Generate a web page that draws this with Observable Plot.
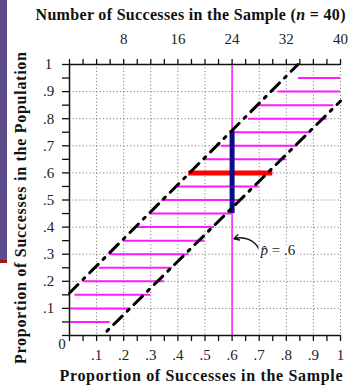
<!DOCTYPE html>
<html><head><meta charset="utf-8">
<script src="https://cdn.jsdelivr.net/npm/d3@7"></script>
<script src="https://cdn.jsdelivr.net/npm/@observablehq/plot@0.6"></script>
<style>
html,body{margin:0;padding:0;background:#fff;}
#wrap{position:relative;width:350px;height:386px;overflow:hidden;}
.strip{position:absolute;left:0;width:7px;z-index:2;}
svg{position:absolute;left:0;top:0;}
</style></head><body>
<div id="wrap">
<div class="strip" style="top:0;height:260px;background:#5e4b8c"></div>
<div class="strip" style="top:260px;height:3px;background:#a3161a"></div>
</div>
<script>
// ---- data ----
const sampleSize = 40;
const popP    = [0.05, 0.10, 0.15, 0.20, 0.25, 0.30, 0.35, 0.40, 0.45, 0.50, 0.55, 0.60, 0.65, 0.70, 0.75, 0.80, 0.85, 0.90, 0.95];
const lowEnd  = [0.00, 0.00, 0.02, 0.05, 0.11, 0.15, 0.20, 0.245, 0.30, 0.34, 0.39, 0.44, 0.50, 0.56, 0.61, 0.66, 0.695, 0.77, 0.845];
const highEnd = [0.15, 0.225, 0.30, 0.35, 0.38, 0.44, 0.50, 0.535, 0.60, 0.635, 0.70, 0.75, 0.80, 0.84, 0.89, 0.95, 0.975, 1.00, 1.00];
const xTickValues = [0.1, 0.2, 0.3, 0.4, 0.5, 0.6, 0.7, 0.8, 0.9, 1.0];
const xTickLabels = [".1", ".2", ".3", ".4", ".5", ".6", ".7", ".8", ".9", "1"];
const yTickValues = [0.1, 0.2, 0.3, 0.4, 0.5, 0.6, 0.7, 0.8, 0.9, 1.0];
const yTickLabels = [".1", ".2", ".3", ".4", ".5", ".6", ".7", ".8", ".9", "1"];
const topTickCounts = [8, 16, 24, 32, 40];
const pHat = 0.6;
const redBar  = {p: 0.6, lo: 0.44, hi: 0.75};
const blueBar = {x: 0.6, lo: 0.45, hi: 0.755};
const leftBoundX  = [0.0, 0.843];
const leftBoundY  = [0.157, 1.0];
const rightBoundX = [0.138, 1.0];
const rightBoundY = [0.016, 0.865];
const gridVals = [0.1, 0.2, 0.3, 0.4, 0.5, 0.6, 0.7, 0.8, 0.9];
const minorTicks = d3.range(0, 21).map(i => i / 20);

const intervals = popP.map((p, i) => ({p, lo: lowEnd[i], hi: highEnd[i]}));
const leftBound = leftBoundX.map((x, i) => ({x, y: leftBoundY[i]}));
const rightBound = rightBoundX.map((x, i) => ({x, y: rightBoundY[i]}));

const serif = "Liberation Serif, Times New Roman, Times, serif";
const magenta = "#ff1aff";
const gridStyle = {stroke: "#808080", strokeOpacity: 1, strokeWidth: 1, strokeDasharray: "1.2,2.2"};

const chart = Plot.plot({
  width: 350, height: 386,
  marginLeft: 69, marginRight: 10, marginTop: 64, marginBottom: 51,
  x: {domain: [0, 1]},
  y: {domain: [0, 1]},
  style: {fontFamily: serif, fontSize: "15px", color: "#222", background: "transparent"},
  marks: [
    Plot.gridX(gridVals.concat([1]), gridStyle),
    Plot.gridY(gridVals, gridStyle),
    Plot.ruleX([pHat], {stroke: magenta, strokeWidth: 1.5}),
    Plot.ruleY(intervals, {y: "p", x1: "lo", x2: "hi", stroke: magenta, strokeWidth: 2}),
    Plot.ruleY([redBar], {y: "p", x1: "lo", x2: "hi", stroke: "#ff0000", strokeWidth: 5}),
    Plot.ruleX([blueBar], {x: "x", y1: "lo", y2: "hi", stroke: "#0c0c88", strokeWidth: 5}),
    Plot.line(leftBound, {x: "x", y: "y", stroke: "black", strokeWidth: 3, strokeDasharray: "12,7,2.5,7"}),
    Plot.line(rightBound, {x: "x", y: "y", stroke: "black", strokeWidth: 3, strokeDasharray: "2.5,7,12,7"}),
    // axis lines
    Plot.ruleX([0], {stroke: "#111", strokeWidth: 1.5}),
    Plot.ruleY([0], {stroke: "#111", strokeWidth: 1.5}),
    Plot.ruleY([1], {stroke: "#111", strokeWidth: 1.5}),
    // bottom axis
    Plot.axisX({anchor: "bottom", ticks: minorTicks, tickSize: 6, tickFormat: () => "", label: null, stroke: "#111", strokeWidth: 1.3}),
    Plot.axisX({anchor: "bottom", ticks: xTickValues, tickSize: 0, tickPadding: 14, label: null, fontSize: 15,
      tickFormat: d => xTickLabels[Math.round(d * 10) - 1]}),
    // top axis
    Plot.axisX({anchor: "top", ticks: minorTicks, tickSize: 6, tickFormat: () => "", label: null, stroke: "#111", strokeWidth: 1.3}),
    Plot.axisX({anchor: "top", ticks: topTickCounts.map(c => c / sampleSize), tickSize: 0, tickPadding: 21, label: null, fontSize: 15,
      tickFormat: d => String(Math.round(d * sampleSize))}),
    // left axis
    Plot.axisY({anchor: "left", ticks: minorTicks, tickSize: 7, tickFormat: () => "", label: null, stroke: "#111", strokeWidth: 1.3}),
    Plot.axisY({anchor: "left", ticks: yTickValues, tickSize: 0, tickPadding: 21, textAnchor: "middle", label: null, fontSize: 15,
      tickFormat: d => yTickLabels[Math.round(d * 10) - 1]}),
    Plot.text(["0"], {frameAnchor: "bottom-left", textAnchor: "middle", lineAnchor: "middle", dx: -7.5, dy: 8.5, fontSize: 15}),
    // annotation
    Plot.arrow([{x1: 0.70, y1: 0.318, x2: 0.607, y2: 0.357}], {x1: "x1", y1: "y1", x2: "x2", y2: "y2", bend: -40, stroke: "#111", strokeWidth: 1.4, headLength: 6}),
    Plot.text([{x: 0.705, y: 0.313}], {x: "x", y: "y", text: () => "p = .6", textAnchor: "start", fontSize: 15, fill: "#222", stroke: "white", strokeWidth: 6, className: "phat"}),
    // titles
    Plot.text(["Number of Successes in the Sample (n = 40)"], {frameAnchor: "top", textAnchor: "middle", lineAnchor: "middle", dy: -50, dx: -14.5, fontWeight: "bold", fontSize: 16, fill: "#111", className: "toptitle"}),
    Plot.text(["Proportion of Successes in the Sample"], {frameAnchor: "bottom", textAnchor: "middle", lineAnchor: "middle", dy: 40, dx: -4, fontWeight: "bold", fontSize: 16, fill: "#111", className: "bottitle"}),
    Plot.text(["Proportion of Successes in the Population"], {frameAnchor: "left", textAnchor: "middle", lineAnchor: "middle", dx: -49, dy: 8, rotate: -90, fontWeight: "bold", fontSize: 16, fill: "#111", className: "ytitle"})
  ]
});
document.getElementById("wrap").appendChild(chart);

// italic n and p-hat; stretch titles to the reference widths
d3.select(chart).selectAll("g.toptitle text").each(function() {
  const t = d3.select(this);
  t.text("");
  t.append("tspan").text("Number of Successes in the Sample (");
  t.append("tspan").attr("font-style", "italic").text("n");
  t.append("tspan").text(" = 40)");
  t.attr("textLength", 310).attr("lengthAdjust", "spacing");
});
d3.select(chart).selectAll("g.bottitle text").attr("textLength", 283).attr("lengthAdjust", "spacing");
d3.select(chart).selectAll("g.ytitle text").attr("textLength", 312).attr("lengthAdjust", "spacing");
d3.select(chart).selectAll("g.phat text").each(function() {
  const t = d3.select(this);
  t.text("");
  t.append("tspan").attr("font-style", "italic").text("p\u0302");
  t.append("tspan").text(" = .6");
});
</script>
</body></html>
